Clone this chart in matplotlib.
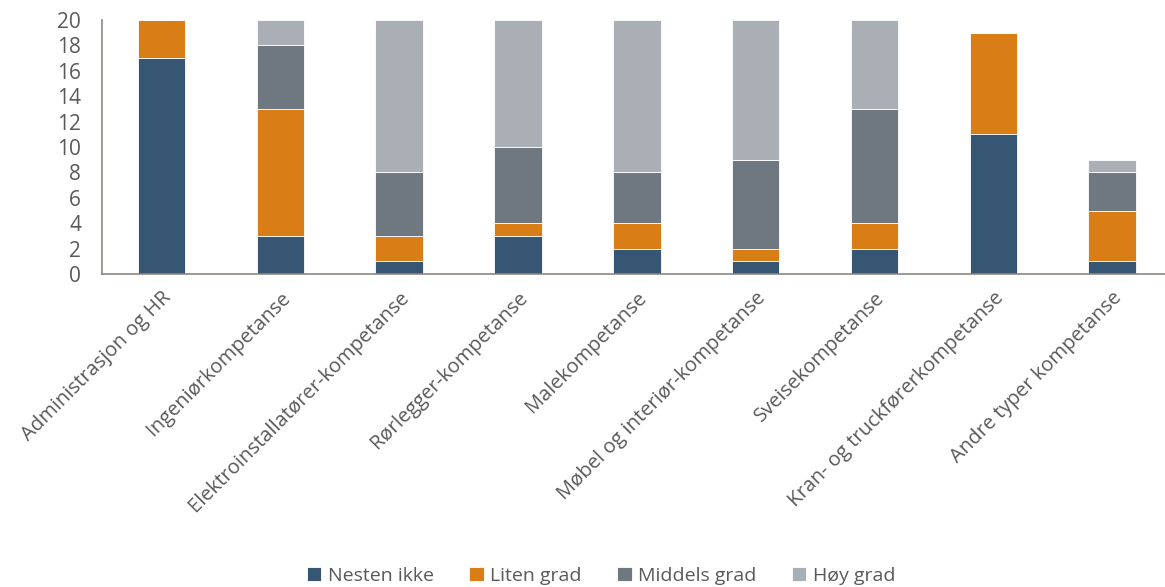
import matplotlib
matplotlib.use('Agg')
import matplotlib.pyplot as plt
import numpy as np

# ---------------- DATA ----------------
categories = [
    "Administrasjon og HR",
    "Ingeniørkompetanse",
    "Elektroinstallatører-kompetanse",
    "Rørlegger-kompetanse",
    "Malekompetanse",
    "Møbel og interiør-kompetanse",
    "Sveisekompetanse",
    "Kran- og truckførerkompetanse",
    "Andre typer kompetanse",
]
nesten_ikke = [17, 3, 1, 3, 2, 1, 2, 11, 1]
liten_grad = [3, 10, 2, 1, 2, 1, 2, 8, 4]
middels_grad = [0, 5, 5, 6, 4, 7, 9, 0, 3]
hoy_grad = [0, 2, 12, 10, 12, 11, 7, 0, 1]

series = [
    ("Nesten ikke", nesten_ikke, "#375673"),
    ("Liten grad", liten_grad, "#D97E17"),
    ("Middels grad", middels_grad, "#6F7880"),
    ("Høy grad", hoy_grad, "#A9AFB5"),
]

# ---------------- PLOT ----------------
plt.rcParams['font.family'] = ['Open Sans', 'DejaVu Sans']
text_color = "#595959"

fig = plt.figure(figsize=(11.65, 5.87), dpi=100)
ax = fig.add_axes([0.0876, 0.533, 0.918, 0.433])

x = np.arange(len(categories))
bottom = np.zeros(len(categories))
for name, vals, color in series:
    vals = np.array(vals, dtype=float)
    ax.bar(x, vals, width=0.4, bottom=bottom, color=color, label=name,
           edgecolor="white", linewidth=0.6)
    bottom += vals

ax.set_xlim(-0.5, len(categories) - 0.5)
ax.set_ylim(0, 20)
ax.set_yticks(range(0, 21, 2))
ax.set_xticks(x)
ax.set_xticklabels(categories, rotation=45, ha="right", rotation_mode="anchor",
                   fontsize=14.5, color=text_color)
ax.tick_params(axis="y", labelsize=15, labelcolor=text_color, length=0, pad=15)
ax.tick_params(axis="x", length=0, pad=10)

for s in ["top", "right"]:
    ax.spines[s].set_visible(False)
for s in ["left", "bottom"]:
    ax.spines[s].set_color("#8C8680")
    ax.spines[s].set_linewidth(1.2)

fig.legend(loc="lower center", bbox_to_anchor=(0.516, -0.026), ncol=4,
           frameon=False, fontsize=14, labelcolor=text_color,
           handlelength=0.75, handleheight=0.75, handletextpad=0.35,
           columnspacing=1.8)

fig.savefig("out.png", dpi=100)
plt.close()
